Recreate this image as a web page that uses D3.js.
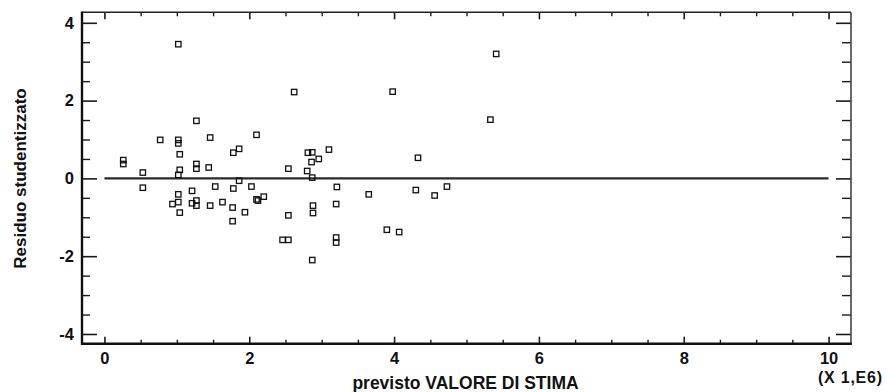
<!DOCTYPE html>
<html><head><meta charset="utf-8">
<script src="https://cdn.jsdelivr.net/npm/d3@7/dist/d3.min.js"></script>
<style>
html,body{margin:0;padding:0;background:#fff;}
svg{display:block;}
text{font-family:Arial,"Liberation Sans",Helvetica,sans-serif;font-weight:bold;fill:#111;}
</style></head>
<body>
<script>
// Predicted values (x 1,E6)
const predicted = [1.02,2.62,0.26,0.26,0.53,0.77,1.02,1.02,1.04,1.04,1.02,1.27,1.27,1.27,1.46,1.44,1.78,1.86,2.10,2.54,
  1.86,0.53,1.02,1.21,1.53,1.78,2.03,2.10,2.20,0.94,1.02,1.04,1.21,1.27,1.27,1.46,1.63,1.77,1.77,1.94,
  2.12,2.54,2.46,2.54,2.81,2.87,2.86,2.96,3.10,2.80,2.87,3.21,2.88,3.20,2.88,3.20,3.20,2.87,5.41,3.98,
  5.33,4.33,3.65,4.30,4.56,4.73,3.90,4.07];
// Studentized residuals
const residuals = [3.45,2.22,0.47,0.37,0.15,0.99,0.99,0.90,0.62,0.22,0.09,1.48,0.37,0.25,1.05,0.28,0.66,0.76,1.12,0.25,
  -0.06,-0.24,-0.41,-0.32,-0.21,-0.26,-0.21,-0.54,-0.47,-0.66,-0.61,-0.88,-0.64,-0.70,-0.57,-0.70,-0.61,-0.75,-1.10,-0.87,
  -0.57,-0.95,-1.58,-1.58,0.66,0.67,0.42,0.50,0.74,0.19,0.02,-0.22,-0.70,-0.66,-0.89,-1.52,-1.65,-2.10,3.20,2.23,
  1.51,0.53,-0.41,-0.30,-0.44,-0.21,-1.32,-1.38];
const xTicks = [0,2,4,6,8,10];
const yTicks = [-4,-2,0,2,4];
const xTitle = "previsto VALORE DI STIMA";
const yTitle = "Residuo studentizzato";
const xUnit = "(X 1,E6)";

const W = 887, H = 392;
const L = 82, R = 851, T = 12.3, B = 343.7;
const svg = d3.select("body").append("svg").attr("width", W).attr("height", H);

const x = d3.scaleLinear().domain([-0.31, 10.31]).range([L, R]);
const y = d3.scaleLinear().domain([-4.25, 4.27]).range([B, T]);

const xMinor = d3.range(0, 10.01, 0.5).filter(v => Math.abs(v % 2) > 0.01);
const yMinor = d3.range(-4, 4.01, 0.5).filter(v => Math.abs(v % 2) > 0.01);
const fmt = d => String(d);

function styleAxis(g, w) {
  g.select(".domain").remove();
  g.selectAll(".tick line").attr("stroke", "#1a1a1a").attr("stroke-width", w);
  g.selectAll("text").attr("font-size", 16.5).attr("fill", "#111")
    .attr("font-family", "Arial, 'Liberation Sans', sans-serif").attr("font-weight", "bold");
}

// Left axis
svg.append("g").attr("transform", `translate(${L},0)`)
  .call(d3.axisLeft(y).tickValues(yMinor).tickSize(-8).tickFormat(""))
  .call(g => styleAxis(g, 1.4));
svg.append("g").attr("transform", `translate(${L},0)`)
  .call(d3.axisLeft(y).tickValues(yTicks).tickSize(-15).tickPadding(8).tickFormat(fmt))
  .call(g => styleAxis(g, 1.6));
// Right axis
svg.append("g").attr("transform", `translate(${R},0)`)
  .call(d3.axisRight(y).tickValues(yMinor).tickSize(-9).tickFormat(""))
  .call(g => styleAxis(g, 1.4));
svg.append("g").attr("transform", `translate(${R},0)`)
  .call(d3.axisRight(y).tickValues(yTicks).tickSize(-15).tickFormat(""))
  .call(g => styleAxis(g, 1.6));
// Bottom axis
svg.append("g").attr("transform", `translate(0,${B})`)
  .call(d3.axisBottom(x).tickValues(xMinor).tickSize(-4).tickFormat(""))
  .call(g => styleAxis(g, 1.4));
svg.append("g").attr("transform", `translate(0,${B})`)
  .call(d3.axisBottom(x).tickValues(xTicks).tickSize(-7).tickPadding(9).tickFormat(fmt))
  .call(g => styleAxis(g, 1.6));
// Top axis
svg.append("g").attr("transform", `translate(0,${T})`)
  .call(d3.axisTop(x).tickValues(xMinor).tickSize(-4).tickFormat(""))
  .call(g => styleAxis(g, 1.4));
svg.append("g").attr("transform", `translate(0,${T})`)
  .call(d3.axisTop(x).tickValues(xTicks).tickSize(-7).tickFormat(""))
  .call(g => styleAxis(g, 1.6));

// Frame
svg.append("line").attr("x1", L).attr("x2", R).attr("y1", T).attr("y2", T).attr("stroke", "#222").attr("stroke-width", 1.6);
svg.append("line").attr("x1", R).attr("x2", R).attr("y1", T).attr("y2", B).attr("stroke", "#444").attr("stroke-width", 1.6);
svg.append("line").attr("x1", L).attr("x2", L).attr("y1", T - 0.8).attr("y2", B + 1.2).attr("stroke", "#111").attr("stroke-width", 2.4);
svg.append("line").attr("x1", L).attr("x2", R + 0.8).attr("y1", B).attr("y2", B).attr("stroke", "#111").attr("stroke-width", 2.4);

// Zero line
svg.append("line").attr("x1", x(0)).attr("x2", x(10)).attr("y1", y(0)).attr("y2", y(0))
  .attr("stroke", "#2a2a2a").attr("stroke-width", 2.2);

// Points
const pts = predicted.map((p, i) => ({p, r: residuals[i]}));
const s = 5.4;
svg.append("g").selectAll("rect").data(pts).join("rect")
  .attr("x", d => x(d.p) - s / 2).attr("y", d => y(d.r) - s / 2)
  .attr("width", s).attr("height", s)
  .attr("fill", "none").attr("stroke", "#111").attr("stroke-width", 1.3);

// Titles
svg.append("text").attr("x", 465.5).attr("y", 388.5).attr("text-anchor", "middle")
  .attr("font-size", 17.5).text(xTitle);
svg.append("text").attr("transform", "translate(25.5,178.5) rotate(-90)").attr("text-anchor", "middle")
  .attr("font-size", 17).text(yTitle);
svg.append("text").attr("x", 818).attr("y", 383).attr("text-anchor", "start")
  .attr("font-size", 16).attr("textLength", 64).attr("lengthAdjust", "spacing").text(xUnit);
</script>
</body></html>
